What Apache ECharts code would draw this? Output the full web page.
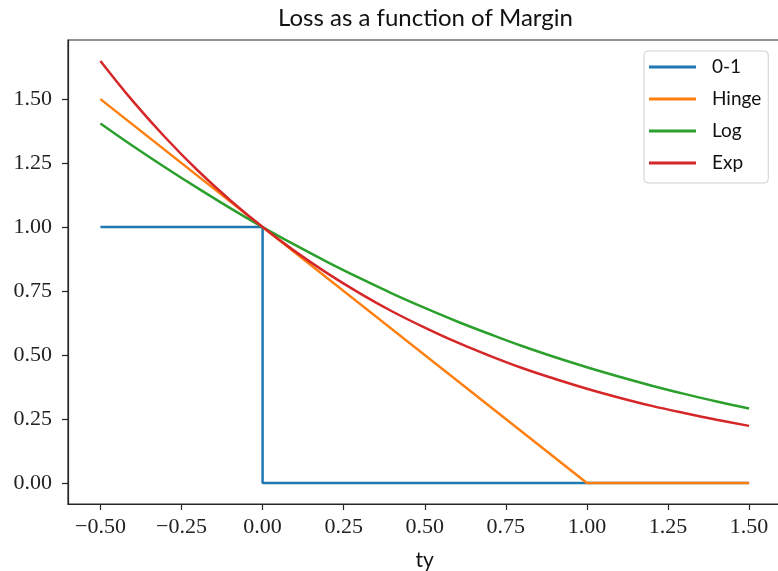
<!DOCTYPE html>
<html>
<head>
<meta charset="utf-8">
<script src="https://cdn.jsdelivr.net/npm/echarts@6/dist/echarts.min.js"></script>
<style>html,body{margin:0;padding:0;background:#fff}#c{width:778px;height:571px}</style>
</head>
<body>
<div id="c"></div>
<script>
// Data
const seriesNames = ['0-1', 'Hinge', 'Log', 'Exp'];
const xTicks = [-0.5, -0.25, 0, 0.25, 0.5, 0.75, 1.0, 1.25, 1.5];
const yTicks = [0, 0.25, 0.5, 0.75, 1.0, 1.25, 1.5];
const stepX = [-0.5, 0, 0, 1.5];
const stepY = [1, 1, 0, 0];
const hingeX = [-0.5, 1.0, 1.5];
const hingeY = [1.5, 0, 0];
const curveX = [-0.5,-0.4,-0.3,-0.2,-0.1,0,0.1,0.2,0.3,0.4,0.5,0.6,0.7,0.8,0.9,1.0,1.1,1.2,1.3,1.4,1.5];
const logY = [1.405,1.317,1.233,1.152,1.074,1.0,0.930,0.863,0.800,0.740,0.684,0.631,0.582,0.535,0.492,0.452,0.415,0.380,0.348,0.318,0.291];
const expY = [1.649,1.492,1.350,1.221,1.105,1.0,0.905,0.819,0.741,0.670,0.607,0.549,0.497,0.449,0.407,0.368,0.333,0.301,0.273,0.247,0.223];

const pair = (xs, ys) => xs.map((x, i) => [x, ys[i]]);
const colors = ['#1f77b4', '#ff7f0e', '#2ca02c', '#d62728'];
const sans = 'Lato, "Open Sans", sans-serif';
const serif = '"Liberation Serif", serif';
const fmt = v => (v < 0 ? '\u2212' : '') + Math.abs(v).toFixed(2);

const chart = echarts.init(document.getElementById('c'), null, {renderer: 'canvas'});
const lineSeries = (name, data, c, smooth) => ({
  name, type: 'line', data, showSymbol: false, symbol: 'none', smooth: smooth,
  lineStyle: {color: c, width: 2.5}, itemStyle: {color: c}, animation: false
});
chart.setOption({
  animation: false,
  title: {
    text: 'Loss as a function of Margin', left: 273, top: 1,
    textStyle: {fontFamily: sans, fontSize: 24, fontWeight: 'normal', color: '#111'}
  },
  grid: {left: 68, width: 713.5, top: 40, height: 464, containLabel: false, outerBoundsMode: 'none',
         show: true, borderColor: '#262626', borderWidth: 1.2, backgroundColor: '#fff'},
  legend: {
    orient: 'vertical', left: 644, top: 51,
    data: seriesNames,
    icon: 'rect', itemWidth: 47, itemHeight: 3, itemGap: 12,
    padding: [6, 7, 10, 5],
    borderColor: '#d0d0d0', borderWidth: 1, borderRadius: 4, backgroundColor: 'rgba(255,255,255,0.8)',
    textStyle: {fontFamily: sans, fontSize: 19, color: '#111', lineHeight: 20, padding: [0, 0, 0, 11]}
  },
  xAxis: {
    type: 'value', min: -0.6, max: 1.6,
    name: 'ty', nameLocation: 'middle', nameGap: 46,
    nameTextStyle: {fontFamily: sans, fontSize: 21, color: '#111'},
    axisLine: {show: true, onZero: false, lineStyle: {color: '#262626', width: 1.2}},
    axisTick: {show: true, inside: false, length: 6, lineStyle: {color: '#262626', width: 1.2}, customValues: xTicks},
    axisLabel: {customValues: xTicks, formatter: fmt, margin: 12, fontFamily: serif, fontSize: 22, color: '#222'},
    splitLine: {show: false}
  },
  yAxis: {
    type: 'value', min: -0.0824, max: 1.7311,
    axisLine: {show: true, onZero: false, lineStyle: {color: '#262626', width: 1.2}},
    axisTick: {show: true, inside: false, length: 6, lineStyle: {color: '#262626', width: 1.2}, customValues: yTicks},
    axisLabel: {customValues: yTicks, formatter: fmt, margin: 16, fontFamily: serif, fontSize: 22, color: '#222'},
    splitLine: {show: false}
  },
  series: [
    lineSeries(seriesNames[0], pair(stepX, stepY), colors[0], false),
    lineSeries(seriesNames[1], pair(hingeX, hingeY), colors[1], false),
    lineSeries(seriesNames[2], pair(curveX, logY), colors[2], 0.4),
    lineSeries(seriesNames[3], pair(curveX, expY), colors[3], 0.4)
  ]
});
</script>
</body>
</html>
